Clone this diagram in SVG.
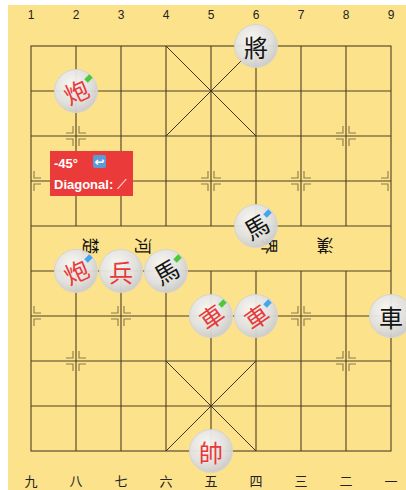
<svg xmlns="http://www.w3.org/2000/svg" width="406" height="490" viewBox="0 0 406 490">
  <defs>
    <radialGradient id="pieceFill" cx="0.4" cy="0.35" r="0.7">
      <stop offset="0" stop-color="#f7f7f7"/>
      <stop offset="0.6" stop-color="#e2e2e2"/>
      <stop offset="1" stop-color="#c9c9c9"/>
    </radialGradient>
    <g id="mark">
      <path d="M-3,-10 V-3 H-10 M3,-10 V-3 H10 M-3,10 V3 H-10 M3,10 V3 H10"/>
    </g>
    <g id="markR">
      <path d="M3,-10 V-3 H10 M3,10 V3 H10"/>
    </g>
    <g id="markL">
      <path d="M-3,-10 V-3 H-10 M-3,10 V3 H-10"/>
    </g>
  </defs>
  <style>
    .grid { stroke: #4e3f22; stroke-width: 1.1; fill: none; }
    .diag { stroke: #3e3420; stroke-width: 1; fill: none; }
    .pos { stroke: #8c7a4c; stroke-width: 1.1; fill: none; }
    .num { font-family: "Liberation Sans", Arial, sans-serif; font-size: 12px; fill: #222; text-anchor: middle; }
    .cnum { font-family: "Noto Sans CJK SC", "Noto Sans CJK TC", sans-serif; font-size: 13px; fill: #222; text-anchor: middle; }
    .river { font-family: "Noto Sans CJK TC", "Noto Sans CJK SC", sans-serif; font-size: 17px; fill: #111; text-anchor: middle; dominant-baseline: central; }
    .disc { fill: url(#pieceFill); stroke: #d4d4d4; stroke-width: 1; opacity: 0.95; }
    .glyph { font-family: "Noto Sans CJK TC", "Noto Sans CJK SC", sans-serif; font-size: 24px; font-weight: 400; text-anchor: middle; dominant-baseline: central; }
    .red { fill: #e8393a; }
    .black { fill: #151515; }
    .tag-green { fill: #4cc93a; }
    .tag-blue { fill: #44a6ee; }
    .tip { font-family: "Liberation Sans", Arial, sans-serif; font-size: 13px; font-weight: bold; fill: #fff; }
  </style>

  <!-- board -->
  <rect x="8" y="5" width="398" height="485" fill="#fce28b"/>

  <!-- file numbers -->
  <g id="top-numbers">
    <text class="num" x="31" y="19">1</text>
    <text class="num" x="76" y="19">2</text>
    <text class="num" x="121" y="19">3</text>
    <text class="num" x="166" y="19">4</text>
    <text class="num" x="211" y="19">5</text>
    <text class="num" x="256" y="19">6</text>
    <text class="num" x="301" y="19">7</text>
    <text class="num" x="346" y="19">8</text>
    <text class="num" x="391" y="19">9</text>
  </g>
  <g id="bottom-numbers">
    <text class="cnum" x="31" y="486">九</text>
    <text class="cnum" x="76" y="486">八</text>
    <text class="cnum" x="121" y="486">七</text>
    <text class="cnum" x="166" y="486">六</text>
    <text class="cnum" x="211" y="486">五</text>
    <text class="cnum" x="256" y="486">四</text>
    <text class="cnum" x="301" y="486">三</text>
    <text class="cnum" x="346" y="486">二</text>
    <text class="cnum" x="391" y="486">一</text>
  </g>

  <!-- grid -->
  <g id="grid" class="grid">
    <rect x="31" y="46" width="360" height="405"/>
    <path d="M31,91 H391 M31,136 H391 M31,181 H391 M31,226 H391 M31,271 H391 M31,316 H391 M31,361 H391 M31,406 H391"/>
    <path d="M76,46 V226 M121,46 V226 M166,46 V226 M211,46 V226 M256,46 V226 M301,46 V226 M346,46 V226"/>
    <path d="M76,271 V451 M121,271 V451 M166,271 V451 M211,271 V451 M256,271 V451 M301,271 V451 M346,271 V451"/>
  </g>
  <g id="palaces" class="diag">
    <path d="M166,46 L256,136 M256,46 L166,136"/>
    <path d="M166,361 L256,451 M256,361 L166,451"/>
  </g>

  <!-- position marks -->
  <g id="marks" class="pos">
    <use href="#mark" x="76" y="136"/>
    <use href="#mark" x="346" y="136"/>
    <use href="#markR" x="31" y="181"/>
    <use href="#mark" x="121" y="181"/>
    <use href="#mark" x="211" y="181"/>
    <use href="#mark" x="301" y="181"/>
    <use href="#markL" x="391" y="181"/>
    <use href="#markR" x="31" y="316"/>
    <use href="#mark" x="121" y="316"/>
    <use href="#mark" x="301" y="316"/>
    <use href="#markL" x="391" y="316"/>
    <use href="#mark" x="76" y="361"/>
    <use href="#mark" x="346" y="361"/>
  </g>

  <!-- river -->
  <g id="river">
    <text class="river" transform="translate(91,246) rotate(90)">楚</text>
    <text class="river" transform="translate(144,246) rotate(90)">河</text>
    <text class="river" transform="translate(270,246) rotate(90)">界</text>
    <text class="river" transform="translate(325,246) rotate(180)">漢</text>
  </g>

  <!-- pieces -->
  <g id="black-general" transform="translate(256,46)">
    <circle class="disc" r="21.5"/>
    <text class="glyph black">將</text>
  </g>
  <g id="red-cannon-1" transform="translate(76,91)">
    <circle class="disc" r="21.5"/>
    <text class="glyph red" transform="rotate(-25)">炮</text>
    <rect class="tag-green" x="9" y="-15" width="7" height="5" transform="rotate(-45 12.5 -12.5)"/>
  </g>
  <g id="black-horse-1" transform="translate(256,226)">
    <circle class="disc" r="21.5"/>
    <text class="glyph black" transform="rotate(-30)">馬</text>
    <rect class="tag-blue" x="8" y="-15" width="7" height="5" transform="rotate(-45 11.5 -12.5)"/>
  </g>
  <g id="red-cannon-2" transform="translate(76,271)">
    <circle class="disc" r="21.5"/>
    <text class="glyph red" transform="rotate(-25)">炮</text>
    <rect class="tag-blue" x="9" y="-15" width="7" height="5" transform="rotate(-45 12.5 -12.5)"/>
  </g>
  <g id="red-soldier" transform="translate(121,271)">
    <circle class="disc" r="21.5"/>
    <text class="glyph red">兵</text>
  </g>
  <g id="black-horse-2" transform="translate(166,271)">
    <circle class="disc" r="21.5"/>
    <text class="glyph black" transform="rotate(-30)">馬</text>
    <rect class="tag-green" x="8" y="-15" width="7" height="5" transform="rotate(-45 11.5 -12.5)"/>
  </g>
  <g id="red-chariot-1" transform="translate(211,316)">
    <circle class="disc" r="21.5"/>
    <text class="glyph red" transform="rotate(-35)">車</text>
    <rect class="tag-green" x="8" y="-15" width="7" height="5" transform="rotate(-45 11.5 -12.5)"/>
  </g>
  <g id="red-chariot-2" transform="translate(256,316)">
    <circle class="disc" r="21.5"/>
    <text class="glyph red" transform="rotate(-35)">車</text>
    <rect class="tag-blue" x="8" y="-15" width="7" height="5" transform="rotate(-45 11.5 -12.5)"/>
  </g>
  <g id="black-chariot" transform="translate(391,316)">
    <circle class="disc" r="21.5"/>
    <text class="glyph black">車</text>
  </g>
  <g id="red-marshal" transform="translate(211,451)">
    <circle class="disc" r="21.5"/>
    <text class="glyph red">帥</text>
  </g>

  <!-- rotation label -->
  <g id="rotation-label">
    <rect x="50" y="151" width="83" height="45" fill="#ea3a3a"/>
    <text class="tip" x="54" y="168">-45°</text>
    <rect x="93" y="155" width="13" height="13" rx="2" fill="#5b9bd8"/>
    <text x="99.5" y="166" font-family="DejaVu Sans, sans-serif" font-size="12" font-weight="bold" fill="#fff" text-anchor="middle">↩</text>
    <text class="tip" x="54" y="189">Diagonal: <tspan font-family="DejaVu Sans, sans-serif" font-weight="normal" font-size="14">⟋</tspan></text>
  </g>
</svg>
